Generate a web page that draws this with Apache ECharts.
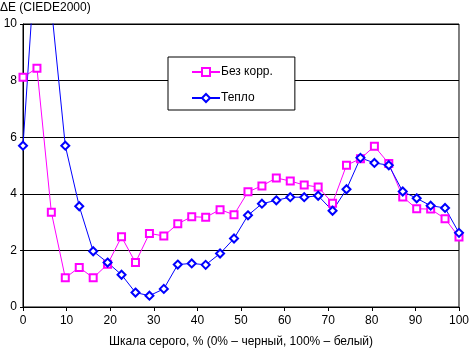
<!DOCTYPE html>
<html lang="ru">
<head>
  <meta charset="UTF-8">
  <title>ΔE (CIEDE2000)</title>
  <script src="https://cdn.jsdelivr.net/npm/echarts/dist/echarts.min.js"></script>
  <style>
    html, body { margin: 0; padding: 0; background: #fff; }
    #chart { width: 472px; height: 353px; }
  </style>
</head>
<body>
  <div id="chart"></div>
  <script>
    // шкала серого, %
    const grayLevels = [0, 3.2, 6.5, 9.7, 12.9, 16.1, 19.4, 22.6, 25.8, 29.0, 32.3, 35.5, 38.7, 41.9, 45.2, 48.4,
      51.6, 54.8, 58.1, 61.3, 64.5, 67.7, 71.0, 74.2, 77.4, 80.6, 83.9, 87.1, 90.3, 93.5, 96.8, 100];
    // Без корр.
    const noCorr = [8.12, 8.44, 3.35, 1.03, 1.40, 1.03, 1.51, 2.48, 1.57, 2.60, 2.51, 2.94, 3.19, 3.17, 3.44, 3.26,
      4.07, 4.28, 4.56, 4.45, 4.31, 4.24, 3.67, 5.01, 5.24, 5.68, 5.07, 3.89, 3.47, 3.46, 3.12, 2.47];
    // Тепло
    const warm = [5.70, 13.1, 10.6, 5.70, 3.56, 1.97, 1.57, 1.14, 0.51, 0.40, 0.64, 1.50, 1.54, 1.49, 1.89, 2.42,
      3.24, 3.65, 3.77, 3.88, 3.88, 3.93, 3.40, 4.16, 5.27, 5.09, 5.01, 4.08, 3.84, 3.58, 3.50, 2.62];

    const seriesNames = ['Без корр.', 'Тепло'];
    const font = 'Liberation Sans, Arial, sans-serif';

    const chart = echarts.init(document.getElementById('chart'));

    function pairs(ys) {
      return grayLevels.map((x, i) => [x, ys[i]]);
    }

    chart.setOption({
      animation: false,
      title: {
        text: 'ΔE (CIEDE2000)',
        left: -5,
        top: -3,
        textStyle: { fontFamily: font, fontSize: 12, fontWeight: 'normal', color: '#000' }
      },
      legend: {
        data: seriesNames,
        orient: 'vertical',
        left: 168,
        top: 57,
        padding: [9, 22, 6, 23],
        itemWidth: 28,
        itemHeight: 10,
        itemGap: 14,
        backgroundColor: '#fff',
        borderColor: '#000',
        borderWidth: 1,
        textStyle: { fontFamily: font, fontSize: 12, color: '#000', padding: [0, 0, 0, -4] }
      },
      grid: {
        left: 23, right: 10, top: 24, bottom: 43,
        show: true, borderColor: '#000', borderWidth: 1, backgroundColor: 'transparent'
      },
      xAxis: {
        type: 'value',
        min: 0, max: 100, interval: 10,
        name: 'Шкала серого, % (0% – черный, 100% – белый)',
        nameLocation: 'middle',
        nameGap: 29,
        nameTextStyle: { fontFamily: font, fontSize: 12, color: '#000' },
        axisLine: { lineStyle: { color: '#000', width: 1 } },
        axisTick: { show: true, length: 4, lineStyle: { color: '#000' } },
        axisLabel: { fontFamily: font, fontSize: 12, color: '#000', margin: 8 },
        splitLine: { show: false }
      },
      yAxis: {
        type: 'value',
        min: 0, max: 10, interval: 2,
        axisLine: { show: true, lineStyle: { color: '#000', width: 1 } },
        axisTick: { show: true, length: 3, lineStyle: { color: '#000' } },
        axisLabel: { fontFamily: font, fontSize: 12, color: '#000', margin: 6 },
        splitLine: { show: true, lineStyle: { color: '#000', width: 1 } }
      },
      series: [
        {
          name: seriesNames[0],
          type: 'line',
          data: pairs(noCorr),
          symbol: 'emptyRect',
          symbolSize: 7,
          showAllSymbol: true,
          lineStyle: { width: 1, color: '#ff00ff' },
          itemStyle: { color: '#ff00ff', borderWidth: 1 },
          clip: true
        },
        {
          name: seriesNames[1],
          type: 'line',
          data: pairs(warm),
          symbol: 'emptyDiamond',
          symbolSize: 8,
          showAllSymbol: true,
          lineStyle: { width: 1, color: '#0000ff' },
          itemStyle: { color: '#0000ff', borderWidth: 1 },
          clip: true
        }
      ]
    });
  </script>
</body>
</html>
